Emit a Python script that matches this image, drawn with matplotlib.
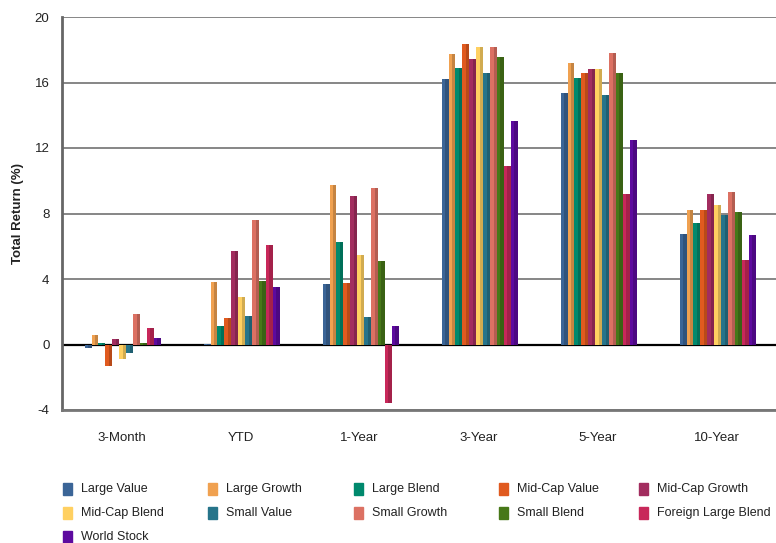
import numpy as np
import matplotlib.pyplot as plt
from matplotlib.patches import Rectangle
from matplotlib.colors import to_rgb

plt.rcParams['font.family'] = ['Liberation Sans', 'DejaVu Sans']
plt.rcParams['axes.unicode_minus'] = False

periods = ['3-Month', 'YTD', '1-Year', '3-Year', '5-Year', '10-Year']
series = ['Large Value', 'Large Growth', 'Large Blend', 'Mid-Cap Value', 'Mid-Cap Growth',
          'Mid-Cap Blend', 'Small Value', 'Small Growth', 'Small Blend', 'Foreign Large Blend',
          'World Stock']
colors = ['#3b6597', '#f0a150', '#00896d', '#e05a1f', '#a22d5f', '#ffd061',
          '#26748a', '#dc7163', '#477818', '#c8285a', '#5d0a9f']

large_value = [-0.2, 0.05, 3.7, 16.2, 15.33, 6.77]
large_growth = [0.55, 3.84, 9.74, 17.74, 17.22, 8.23]
large_blend = [0.1, 1.16, 6.28, 16.87, 16.28, 7.42]
midcap_value = [-1.3, 1.63, 3.78, 18.35, 16.6, 8.23]
midcap_growth = [0.35, 5.73, 9.04, 17.42, 16.81, 9.19]
midcap_blend = [-0.87, 2.9, 5.45, 18.15, 16.81, 8.52]
small_value = [-0.5, 1.75, 1.69, 16.6, 15.26, 7.91]
small_growth = [1.89, 7.62, 9.57, 18.15, 17.82, 9.31]
small_blend = [0.1, 3.9, 5.12, 17.54, 16.6, 8.11]
foreign_large_blend = [1.02, 6.08, -3.56, 10.93, 9.17, 5.14]
world_stock = [0.4, 3.52, 1.14, 13.64, 12.5, 6.69]

values = [large_value, large_growth, large_blend, midcap_value, midcap_growth, midcap_blend,
          small_value, small_growth, small_blend, foreign_large_blend, world_stock]

fig = plt.figure(figsize=(7.76, 5.43), dpi=100)
ax = fig.add_axes([62 / 776, 1 - 410 / 543, 714 / 776, 393 / 543])

x = np.arange(len(periods))
n = len(series)
w = 0.64 / n
for i, (name, vals, c) in enumerate(zip(series, values, colors)):
    pos = x - 0.31 + w * i
    dark = tuple(v * 0.82 for v in to_rgb(c))
    # left half in base colour, right half darker for the bevel look
    ax.bar(pos, vals, width=w * 0.5, align='edge', color=c, zorder=3, linewidth=0)
    ax.bar(pos + w * 0.5, vals, width=w * 0.5, align='edge', color=dark, zorder=3, linewidth=0)

ax.set_xlim(-0.5, 5.5)
ax.set_ylim(-4, 20)
ax.set_yticks([-4, 0, 4, 8, 12, 16, 20])
ax.set_xticks(x)
ax.set_xticklabels(periods)
ax.tick_params(axis='both', length=0, labelsize=9.5, colors='#222222')
ax.tick_params(axis='x', pad=16)
ax.tick_params(axis='y', pad=9)
ax.grid(axis='y', color='#666666', linewidth=1.1, zorder=1)
ax.axhline(0, color='black', linewidth=1.6, zorder=2)
for s in ['top', 'right']:
    ax.spines[s].set_visible(False)
ax.spines['left'].set_color('#666666')
ax.spines['left'].set_linewidth(2)
ax.spines['bottom'].set_color('#777777')
ax.spines['bottom'].set_linewidth(2)
ax.set_ylabel('Total Return (%)', fontsize=9.5, fontweight='bold', color='#222222', labelpad=8)

# legend laid out as a 5-column grid
col_x = [67, 212, 358, 503, 643]
row_y = [489, 513, 537]
for i, (name, c) in enumerate(zip(series, colors)):
    cx = col_x[i % 5]
    cy = row_y[i // 5]
    fig.add_artist(Rectangle(((cx - 4) / 776, 1 - (cy + 6) / 543), 9 / 776, 12 / 543,
                             transform=fig.transFigure, color=c))
    fig.text((cx + 14) / 776, 1 - cy / 543, name, fontsize=9, va='center', ha='left',
             color='#222222')

fig.savefig('out.png', dpi=100)
